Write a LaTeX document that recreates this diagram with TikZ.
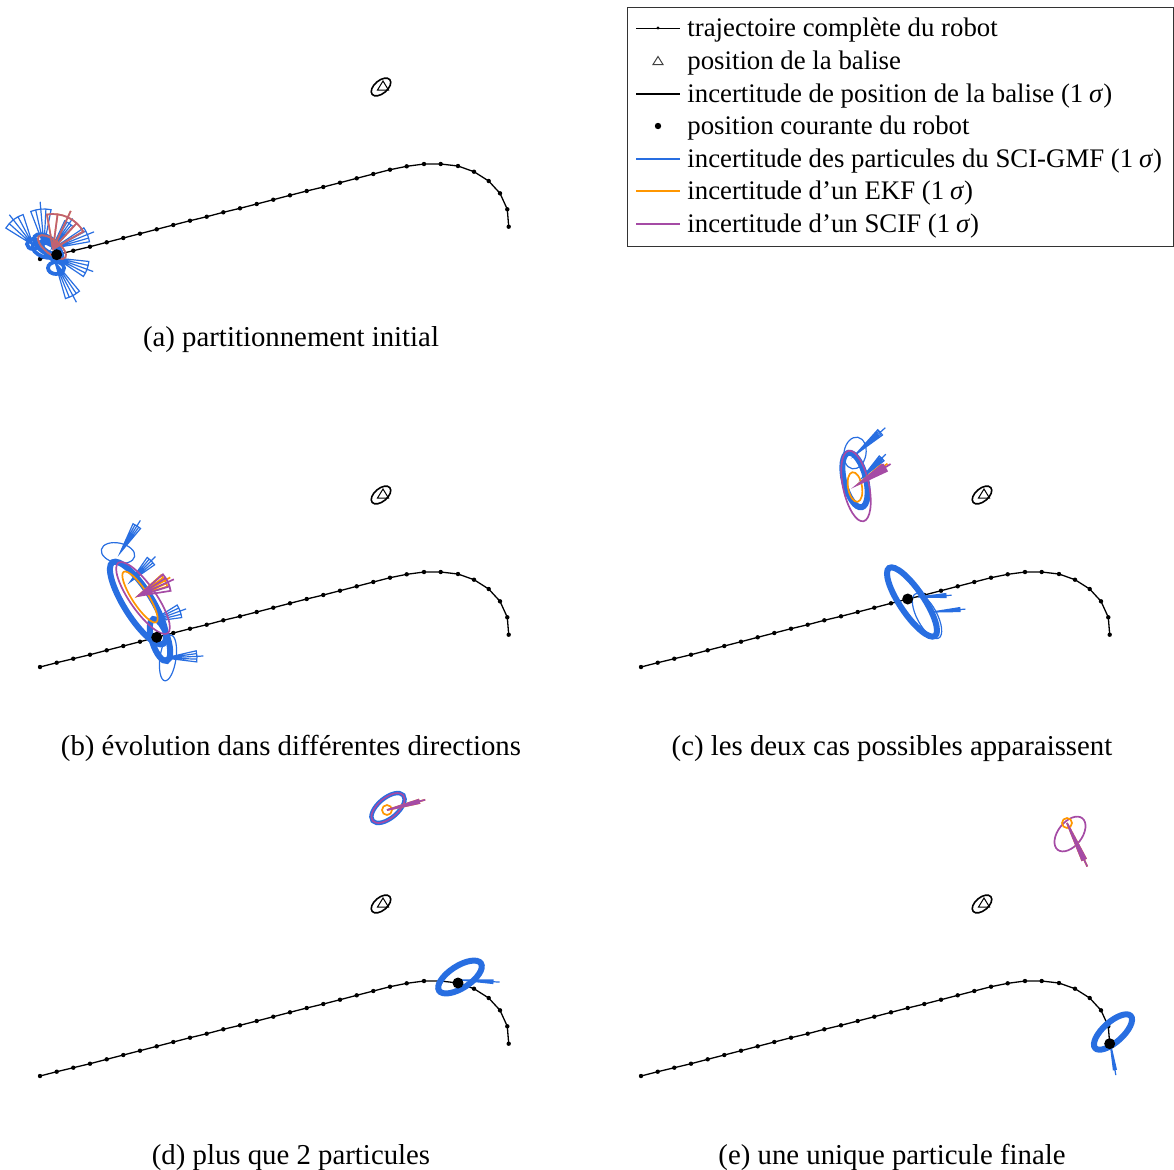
\documentclass[tikz,border=0pt]{standalone}
\usepackage{fontspec}
\setmainfont{Liberation Serif}
\definecolor{gblue}{RGB}{40,110,225}
\definecolor{gorange}{RGB}{255,150,0}
\definecolor{gpurple}{RGB}{165,75,165}
\tikzset{
  trajline/.style={black,line width=0.65pt},
  bthin/.style={gblue,line width=0.6pt},
  bmid/.style={gblue,line width=1.9pt},
  bthick/.style={gblue,line width=3pt},
  othin/.style={gorange,line width=0.85pt},
  pthin/.style={gpurple,line width=0.85pt},
  pover/.style={gpurple,line width=0.85pt,opacity=0.7},
  capt/.style={anchor=base,inner sep=0pt,font=\fontsize{14.4}{17}\selectfont},
  legtext/.style={anchor=base west,inner sep=0pt,font=\fontsize{13.4}{16}\selectfont},
  robotdot/.style={black},
}
\newcommand\sig{(1\hspace{0.22em}\textit{σ})}
\newcommand\pell[6]{\draw[#6,shift={(#1,#2)},rotate=#3] (0,0) ellipse[x radius=#4,y radius=#5];}
\newcommand\partfan[6]{\draw[#6,shift={(#1,#2)},rotate=#3] (#5:#4) -- (0,0) -- (-#5:#4) arc[start angle=-#5,end angle=#5,radius=#4] -- cycle (0,0) -- (#4*1.2,0) (0,0) -- (#5*0.5:#4) (0,0) -- (-#5*0.5:#4);}
\newcommand\basefig{%
  \draw[trajline] (40,-259) -- (56.7,-254.7) -- (73.3,-250.7) -- (90,-246.7) -- (106.7,-242.3) -- (123.3,-238) -- (140,-233.7) -- (156.7,-229.3) -- (173.3,-225) -- (190,-220.7) -- (206.7,-216.7) -- (223.3,-212.3) -- (240,-208.3) -- (256.7,-204) -- (273.3,-199.7) -- (290,-195.3) -- (306.7,-191) -- (323.3,-187) -- (340,-182.7) -- (356.7,-178.3) -- (373.3,-174) -- (390,-169.7) -- (406.7,-166.3) -- (424,-164) -- (440.7,-164) -- (458,-166) -- (474,-171.7) -- (488.7,-181) -- (500,-193.3) -- (507.3,-209.3) -- (508.7,-226.7);
  \foreach \px/\py in {40/259,56.7/254.7,73.3/250.7,90/246.7,106.7/242.3,123.3/238,140/233.7,156.7/229.3,173.3/225,190/220.7,206.7/216.7,223.3/212.3,240/208.3,256.7/204,273.3/199.7,290/195.3,306.7/191,323.3/187,340/182.7,356.7/178.3,373.3/174,390/169.7,406.7/166.3,424/164,440.7/164,458/166,474/171.7,488.7/181,500/193.3,507.3/209.3,508.7/226.7}
    \fill (\px,-\py) circle[radius=2.2];
  \pell{381}{-87}{40}{11.5}{6.5}{black,line width=0.8pt}
  \draw[black,line width=0.5pt] (383,-81) -- (377.5,-90) -- (388.5,-90) -- cycle;
}
\begin{document}
\begin{tikzpicture}[x=0.5pt,y=0.5pt]
\useasboundingbox (0,0) rectangle (1174,-1169);
% ---- base figures
\begin{scope}\basefig\end{scope}
\begin{scope}[shift={(0,-408)}]\basefig\end{scope}
\begin{scope}[shift={(601,-408)}]\basefig\end{scope}
\begin{scope}[shift={(0,-817)}]\basefig\end{scope}
\begin{scope}[shift={(601,-817)}]\basefig\end{scope}
% ---- (a)
\partfan{33}{-245}{128}{32}{20}{bthin}
\partfan{44}{-246}{95}{37}{16}{bthin}
\partfan{52}{-248}{55}{30}{10}{bthin}
\partfan{54}{-248}{22}{36}{12}{bthin}
\partfan{56}{-258}{-20}{33}{14}{bthin}
\partfan{55}{-262}{-62}{38}{12}{bthin}
\pell{47}{-245}{-35}{15}{8}{bmid}
\pell{45}{-250}{-20}{13}{7}{bmid}
\pell{52}{-250}{-50}{14}{7}{bmid}
\pell{50}{-247}{-30}{10}{5}{bmid}
\pell{33}{-244}{0}{6}{5}{bmid}
\pell{56}{-268}{0}{8}{6}{bmid}
\pell{52}{-247}{-38}{17}{7}{othin}
\pell{52}{-247}{-38}{17}{7}{pover}
\partfan{53}{-249}{65}{35}{35}{othin}
\partfan{53}{-249}{65}{35}{35}{pover}
% ---- (b)
\pell{118}{-553}{-12}{17}{10}{bthin}
\partfan{120}{-553}{58}{32}{8}{bthin}
\pell{138}{-603}{-58}{48}{14}{bthick}
\pell{160}{-640}{-72}{22}{8}{bthick}
\pell{168}{-658}{82}{23}{8}{bthin}
\partfan{130}{-582}{45}{30}{10}{bthin}
\partfan{150}{-622}{20}{32}{12}{bthin}
\partfan{165}{-658}{3}{32}{10}{bthin}
\pell{140}{-597}{-57}{30}{8}{othin}
\pell{143}{-598}{-55}{43}{13}{pthin}
\partfan{138}{-596}{30}{31}{12}{othin}
\partfan{138}{-596}{25}{33}{16}{pthin}
% ---- (c)
\pell{855}{-453}{80}{16}{11}{bthin}
\partfan{855}{-455}{42}{34}{6}{bthin}
\pell{855}{-480}{-76}{28}{11}{bthick}
\partfan{862}{-478}{45}{28}{7}{bthin}
\pell{856}{-486}{-78}{36}{13}{pthin}
\pell{855}{-487}{-80}{15}{7}{othin}
\partfan{857}{-485}{35}{31}{5}{othin}
\partfan{857}{-485}{32}{33}{7}{pthin}
\pell{912}{-602}{-56}{41}{12}{bthick}
\pell{927}{-616}{-62}{25}{10}{bthin}
\partfan{918}{-597}{3}{28}{4}{bthin}
\partfan{932}{-612}{5}{28}{4}{bthin}
% ---- (d)
\pell{388}{-808}{40}{20}{10}{gblue,line width=2.2pt}
\pell{388}{-808}{40}{20}{10}{pthin}
\draw[othin] (387,-810) circle[radius=5];
\partfan{387}{-810}{15}{33}{3}{othin}
\partfan{387}{-810}{15}{33}{3}{pthin}
\pell{460}{-977}{33}{25}{11}{bthick}
\partfan{460}{-980}{-3}{33}{3}{bthin}
% ---- (e)
\pell{1070}{-834}{52}{20}{12}{pthin}
\draw[othin] (1067,-823) circle[radius=5];
\partfan{1067}{-823}{-65}{40}{3}{othin}
\partfan{1067}{-823}{-65}{40}{3}{pthin}
\pell{1113}{-1032}{42}{24}{10}{bthick}
\partfan{1110}{-1042}{-80}{28}{3}{bthin}
% ---- robot current positions
\fill[robotdot] (56.7,-254.7) circle[radius=5.5];
\fill[robotdot] (156.7,-637.3) circle[radius=5.5];
\fill[robotdot] (907.7,-599) circle[radius=5.5];
\fill[robotdot] (458,-983) circle[radius=5.5];
\fill[robotdot] (1109.7,-1043.7) circle[radius=5.5];
% ---- captions
\node[capt] (capa) at (291,-346) {(a) partitionnement initial};
\node[capt] (capb) at (291,-755) {(b) évolution dans différentes directions};
\node[capt] (capc) at (892,-755) {(c) les deux cas possibles apparaissent};
\node[capt] (capd) at (291,-1164) {(d) plus que 2 particules};
\node[capt] (cape) at (892,-1164) {(e) une unique particule finale};
% ---- legend
\draw[black!80,line width=0.5pt] (627,-7) rectangle (1173,-246);
\coordinate (s1a) at (636,-28); \coordinate (s1b) at (680,-28);
\draw[black,line width=0.5pt] (s1a) -- (s1b);
\fill (658,-28) circle[radius=1.6];
\draw[black!75,line width=0.5pt] (658,-56.5) -- (653,-64.5) -- (663,-64.5) -- cycle;
\coordinate (s3a) at (636,-94); \coordinate (s3b) at (680,-94);
\draw[black,line width=0.85pt] (s3a) -- (s3b);
\fill (658,-126) circle[radius=3.2];
\coordinate (s5a) at (636,-159); \coordinate (s5b) at (680,-159);
\draw[gblue,line width=1.1pt] (s5a) -- (s5b);
\coordinate (s6a) at (636,-191); \coordinate (s6b) at (680,-191);
\draw[gorange,line width=0.85pt] (s6a) -- (s6b);
\coordinate (s7a) at (636,-224); \coordinate (s7b) at (680,-224);
\draw[gpurple,line width=0.85pt] (s7a) -- (s7b);
\node[legtext] (l1) at (687,-36) {trajectoire complète du robot};
\node[legtext] (l2) at (687,-69) {position de la balise};
\node[legtext] (l3) at (687,-102) {incertitude de position de la balise \sig};
\node[legtext] (l4) at (687,-134) {position courante du robot};
\node[legtext] (l5) at (687,-167) {incertitude des particules du SCI-GMF \sig};
\node[legtext] (l6) at (687,-199) {incertitude d’un EKF \sig};
\node[legtext] (l7) at (687,-232) {incertitude d’un SCIF \sig};
\end{tikzpicture}
\end{document}
